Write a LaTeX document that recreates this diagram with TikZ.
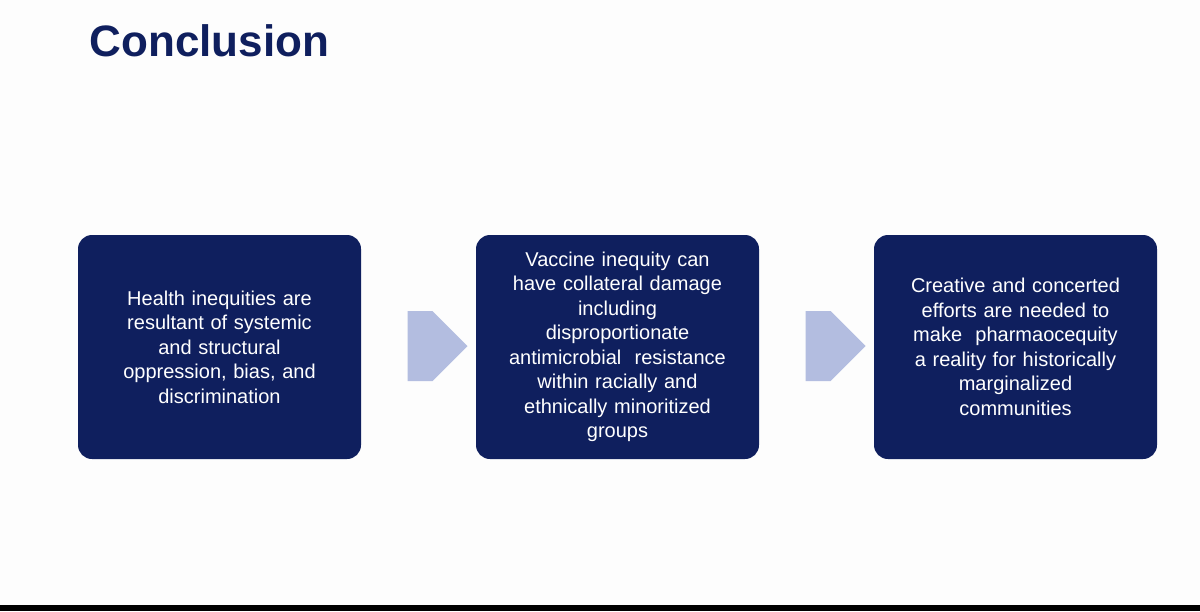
\documentclass[tikz,border=0pt]{standalone}
\usepackage{fontspec}
\setmainfont{Liberation Sans}
\usetikzlibrary{shapes.arrows}
\definecolor{navy}{HTML}{0F1F5E}
\definecolor{arrowc}{HTML}{B3BDE0}
\definecolor{bg}{HTML}{FDFDFD}
\begin{document}
\begin{tikzpicture}[x=1pt,y=-1pt,
  box/.style={fill=navy,rounded corners=14pt,minimum width=283pt,minimum height=224pt,text=white,align=center,text width=260pt,font=\fontsize{20}{24.5}\selectfont},
  arr/.style={single arrow,fill=arrowc,minimum width=70pt,single arrow head extend=0pt,minimum height=60pt,inner sep=0pt,single arrow tip angle=90}]
\fill[bg] (0,0) rectangle (1200,611);
\useasboundingbox (0,0) rectangle (1200,611);
\fill[black] (0,605) rectangle (1200,611);
\node[anchor=base west,text=navy,font=\fontsize{44}{50}\selectfont\bfseries] (title) at (86,56) {Conclusion};
\node[box] (b1) at (219.5,347) {Health inequities are\\resultant of systemic\\and structural\\oppression, bias, and\\discrimination};
\node[box] (b2) at (617.5,347) {Vaccine inequity can\\have collateral damage\\including\\disproportionate\\antimicrobial\ \ resistance\\within racially and\\ethnically minoritized\\groups};
\node[box] (b3) at (1015.5,347) {Creative and concerted\\efforts are needed to\\make\ \ pharmaocequity\\a reality for historically\\marginalized\\communities};
\node[arr] (a1) at (420,346) {};
\node[arr] (a2) at (818,346) {};
\end{tikzpicture}
\end{document}
